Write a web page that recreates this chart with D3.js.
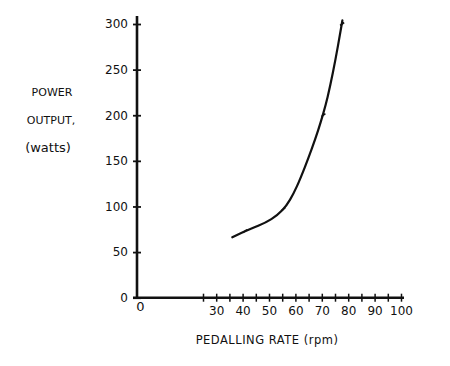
<!DOCTYPE html>
<html><head><meta charset="utf-8">
<script src="https://cdn.jsdelivr.net/npm/d3@7"></script>
<style>body{margin:0;background:#fff}svg{display:block}text{font-family:"DejaVu Sans",sans-serif;fill:#111}</style>
</head><body><svg id="c" width="450" height="366"></svg>
<script>
// curve (rpm, watts)
const curveRpm   = [36.1, 40.9, 45.9, 51.0, 55.4, 58.0, 60.5, 63.6, 66.2, 68.7, 70.6, 72.1, 74.2, 76.2, 77.8];
const curveWatts = [66.2, 73.1, 78.5, 85.5, 96.0, 107.0, 121.0, 143.0, 163.0, 183.9, 202.2, 218.0, 246.0, 277.0, 304.0];
// small marks on the curve
const markRpm   = [40.9, 55.4, 70.6, 77.7];
const markWatts = [73, 97, 200, 300];
const yTicks = [0, 50, 100, 150, 200, 250, 300];
const xMinorTicks = [25, 30, 35, 40, 45, 50, 55, 60, 65, 70, 75, 80, 85, 90, 95, 100];
const xLabels = [0, 30, 40, 50, 60, 70, 80, 90, 100];

const svg = d3.select("#c");
const x = d3.scaleLinear().domain([0, 100]).range([137, 401]);
const y = d3.scaleLinear().domain([0, 300]).range([297.7, 24]);

// y axis
const ya = svg.append("g").attr("transform", `translate(${x(0)},0)`)
  .call(d3.axisLeft(y).tickValues(yTicks).tickSize(4).tickSizeOuter(0).tickPadding(7));
ya.select(".domain").remove();
ya.selectAll(".tick line").attr("x1", -4).attr("x2", 4).attr("stroke", "#111").attr("stroke-width", 1.8);
ya.selectAll(".tick text").attr("font-size", 12).attr("x", -9);
svg.append("line").attr("x1", x(0)).attr("x2", x(0)).attr("y1", 16).attr("y2", y(0) + 1)
  .attr("stroke", "#111").attr("stroke-width", 2.6);

// x axis ticks
const xa = svg.append("g").attr("transform", `translate(0,${y(0)})`)
  .call(d3.axisBottom(x).tickValues(xMinorTicks).tickSize(4).tickSizeOuter(0).tickFormat(""));
xa.select(".domain").remove();
xa.selectAll(".tick line").attr("y1", -4).attr("y2", 4).attr("stroke", "#111").attr("stroke-width", 1.5);
svg.append("line").attr("x1", 133).attr("x2", 404).attr("y1", y(0)).attr("y2", y(0))
  .attr("stroke", "#111").attr("stroke-width", 2.6);

// x labels
const xl = svg.append("g").attr("transform", `translate(0,${y(0)})`)
  .call(d3.axisBottom(x).tickValues(xLabels).tickSize(0).tickPadding(9));
xl.select(".domain").remove();
xl.selectAll(".tick text").attr("font-size", 12);
xl.selectAll(".tick").filter(d => d === 0).select("text").attr("dx", 3).attr("dy", 4).attr("font-size", 13);

// curve
const pts = curveRpm.map((r, i) => [r, curveWatts[i]]);
svg.append("path").datum(pts)
  .attr("d", d3.line().x(d => x(d[0])).y(d => y(d[1])).curve(d3.curveBasis))
  .attr("fill", "none").attr("stroke", "#111").attr("stroke-width", 2.2).attr("stroke-linecap", "round");
svg.append("g").selectAll("line").data(markRpm.map((r, i) => [r, markWatts[i]])).join("line")
  .attr("x1", d => x(d[0]) - 2).attr("x2", d => x(d[0]) + 2)
  .attr("y1", d => y(d[1]) + 1.5).attr("y2", d => y(d[1]) - 1.5)
  .attr("stroke", "#111").attr("stroke-width", 1.6);

// axis titles
const yt = svg.append("g").attr("font-size", 11);
yt.append("text").attr("x", 52).attr("y", 96).attr("text-anchor", "middle").text("POWER");
yt.append("text").attr("x", 51).attr("y", 124).attr("text-anchor", "middle").text("OUTPUT,");
yt.append("text").attr("x", 48).attr("y", 152).attr("text-anchor", "middle").attr("font-size", 13).text("(watts)");
svg.append("text").attr("x", 267).attr("y", 344).attr("text-anchor", "middle").attr("font-size", 11.5)
  .attr("letter-spacing", 0.5).text("PEDALLING RATE (rpm)");
</script></body></html>
